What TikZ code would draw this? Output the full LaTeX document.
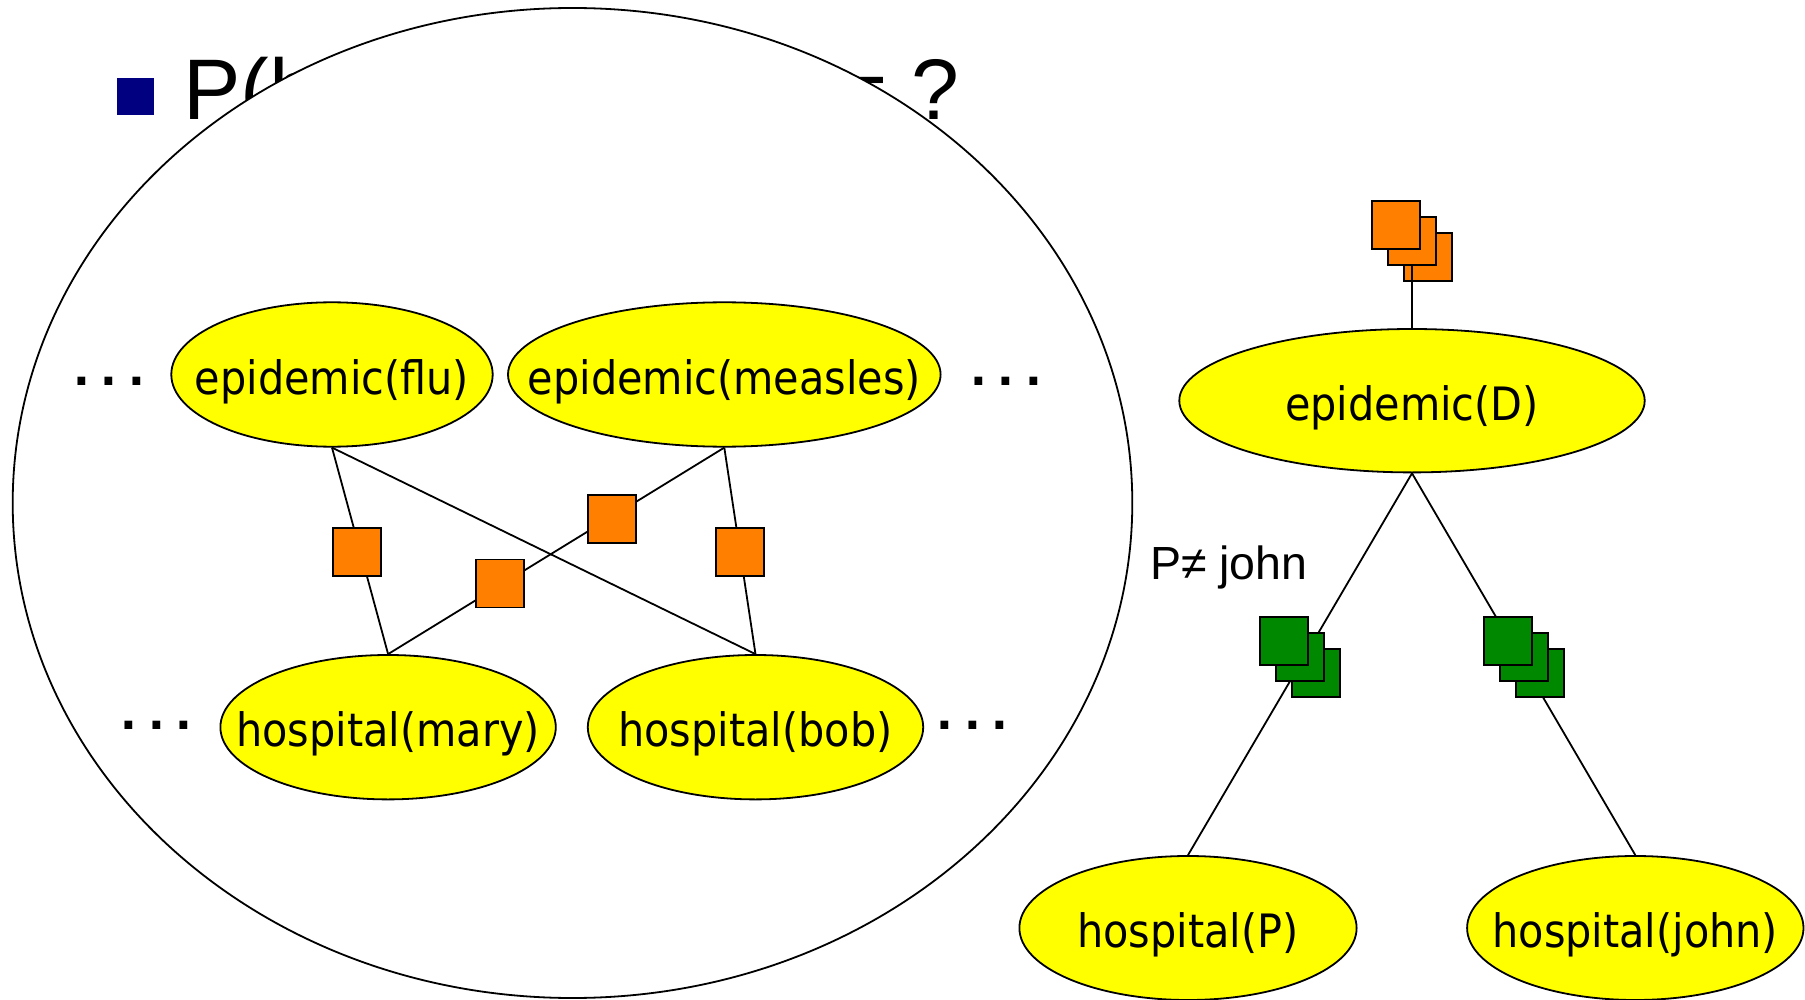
\documentclass[tikz,border=0pt]{standalone}
\usepackage{fontspec}
\usetikzlibrary{shapes.geometric}
\setmainfont{Liberation Sans}
\newfontfamily\labfont{DejaVu Sans Condensed}
\newfontfamily\dotfont{DejaVu Sans}
\definecolor{facorange}{RGB}{255,127,0}
\definecolor{facgreen}{RGB}{0,136,0}
\definecolor{varyellow}{RGB}{255,255,0}
\definecolor{bulletblue}{RGB}{0,0,128}
\tikzset{
  var/.style={draw, ellipse, fill=varyellow, line width=1.8pt, inner sep=0pt,
    text height=39pt, text depth=0pt,
    font=\labfont\fontsize{46}{50}\selectfont},
  factor/.style={draw, rectangle, fill=facorange, line width=1.8pt,
    minimum size=48pt, inner sep=0pt},
  gfactor/.style={factor, fill=facgreen},
  link/.style={line width=1.8pt},
  dots/.style={anchor=base west, inner sep=0pt,
    font=\dotfont\bfseries\fontsize{44}{50}\selectfont},
}
% label set in a zero-width box so the ellipse keeps its given size
\newcommand{\lab}[1]{\makebox[0pt]{#1}}
\newcommand{\threedots}{\makebox[27.5pt][l]{.}\makebox[27.5pt][l]{.}.}
\begin{document}
\begin{tikzpicture}[x=1pt, y=-1pt]
\useasboundingbox (0,0) rectangle (1805,1000);

% slide heading, partly covered by the plate
\node (bullet) [fill=bulletblue, minimum size=37pt, inner sep=0pt] at (135.5,96.7) {};
\node (title) [anchor=base west, inner sep=0pt, font=\fontsize{86}{96}\selectfont]
  at (183,120) {P(hospital(john)) = ?};

% ground plate
\node (plate) [draw, ellipse, fill=white, line width=1.8pt, inner sep=0pt,
  minimum width=1119.6pt, minimum height=990pt] at (572.5,503) {};

% ground network variables
\node (flu) [var, minimum width=321.4pt, minimum height=144.4pt] at (332,374.5) {\lab{epidemic(flu)}};
\node (measles) [var, minimum width=432.6pt, minimum height=144.4pt] at (724.3,374.5) {\lab{epidemic(measles)}};
\node (mary) [var, minimum width=335.4pt, minimum height=144.4pt] at (388.1,727.2) {\lab{hospital(mary)}};
\node (bob) [var, minimum width=335.4pt, minimum height=144.4pt] at (755.5,727.2) {\lab{hospital(bob)}};

% ground connections
\draw[link] (flu.south) -- (mary.north);
\draw[link] (flu.south) -- (bob.north);
\draw[link] (measles.south) -- (mary.north);
\draw[link] (measles.south) -- (bob.north);

% ground factors
\node (f1) [factor] at (357,551.7) {};
\node (f2) [factor] at (500,583.5) {};
\node (f3) [factor] at (612,519.3) {};
\node (f4) [factor] at (740,551.7) {};

% continuation dots
\node (dtl) [dots] at (73,385.5) {\threedots};
\node (dtr) [dots] at (970,385.5) {\threedots};
\node (dbl) [dots] at (120.3,729) {\threedots};
\node (dbr) [dots] at (936.4,729) {\threedots};

% first-order model
\node (epiD) [var, minimum width=465.4pt, minimum height=143.4pt] at (1412,400.7) {\lab{epidemic(D)}};
\node (hosP) [var, minimum width=337.2pt, minimum height=144pt] at (1188,928) {\lab{hospital(P)}};
\node (hosJ) [var, minimum width=336.4pt, minimum height=144pt] at (1635.3,928) {\lab{hospital(john)}};

% parfactor stack on epidemic(D)
\node (t3) [factor] at (1428.2,256.8) {};
\coordinate (ttop) at (1412,250);
\draw[link] (ttop) -- (epiD.north);
\node (t2) [factor] at (1412.2,240.8) {};
\node (t1) [factor] at (1396.2,224.8) {};

% links to hospital variables
\draw[link] (epiD.south) -- (hosP.north);
\draw[link] (epiD.south) -- (hosJ.north);

% parfactor stacks on the links
\node (g3) [gfactor] at (1316,672.8) {};
\node (g2) [gfactor] at (1300,656.8) {};
\node (g1) [gfactor] at (1284,640.8) {};
\node (h3) [gfactor] at (1539.8,672.8) {};
\node (h2) [gfactor] at (1523.8,656.8) {};
\node (h1) [gfactor] at (1507.8,640.8) {};

% constraint
\node (cons) [anchor=base west, inner sep=0pt, font=\fontsize{46.5}{50}\selectfont]
  at (1150,579.3) {P≠ john};
\end{tikzpicture}
\end{document}
